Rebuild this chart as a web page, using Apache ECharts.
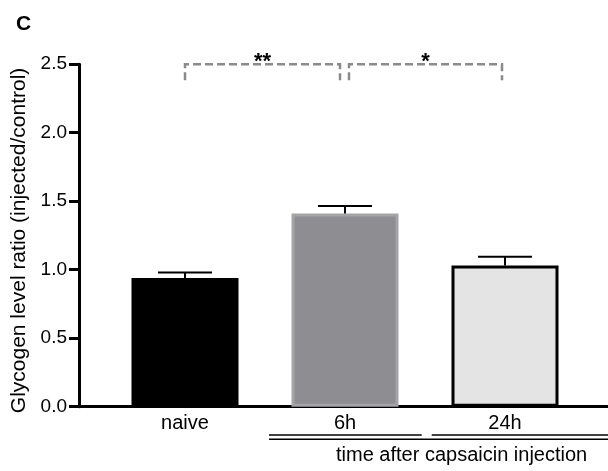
<!DOCTYPE html>
<html>
<head>
<meta charset="utf-8">
<script src="https://cdn.jsdelivr.net/npm/echarts@6/dist/echarts.min.js"></script>
<style>
  html, body { margin: 0; padding: 0; background: #ffffff; }
  #chart { width: 608px; height: 471px; }
</style>
</head>
<body>
<div id="chart"></div>
<script>
// ---- data ----
const categories = ['naive', '6h', '24h'];
const means = [0.94, 1.41, 1.03];
const sems = [0.04, 0.055, 0.065];
const sigPairs = [[0, 1], [1, 2]];
const sigMarks = ['**', '*'];
const groupTitle = 'time after capsaicin injection';
const groupMembers = [1, 2];
const panelLetter = 'C';
const yName = 'Glycogen level ratio (injected/control)';

// ---- styles ----
const FONT = 'Liberation Sans, Arial, Helvetica, sans-serif';
const barFills = ['#000000', '#8e8d92', '#e4e4e4'];
const barBorders = ['#000000', '#a4a3a7', '#000000'];
const sigLevel = 2.5;

const chart = echarts.init(document.getElementById('chart'), null, { renderer: 'canvas' });

const option = {
  animation: false,
  backgroundColor: '#ffffff',
  textStyle: { fontFamily: FONT },
  title: {
    text: panelLetter,
    left: 11,
    top: 9,
    textStyle: { fontFamily: FONT, fontSize: 21, fontWeight: 'bold', color: '#000' }
  },
  grid: { left: 79, right: 0, top: 64.2, bottom: 64.3, containLabel: false },
  xAxis: {
    type: 'value',
    min: -0.6625,
    max: 2.64375,
    splitLine: { show: false },
    axisTick: { show: false },
    axisLine: { show: true, onZero: false, lineStyle: { color: '#000', width: 3 } },
    axisLabel: {
      customValues: categories.map((c, i) => i),
      formatter: v => categories[Math.round(v)] || '',
      color: '#000',
      fontSize: 20,
      fontFamily: FONT,
      margin: 7
    }
  },
  yAxis: {
    type: 'value',
    min: 0,
    max: 2.5,
    interval: 0.5,
    splitLine: { show: false },
    axisLine: { show: true, onZero: false, lineStyle: { color: '#000', width: 3 } },
    axisTick: { show: true, inside: false, length: 10, lineStyle: { color: '#000', width: 3 } },
    axisLabel: {
      formatter: v => v.toFixed(1),
      color: '#000',
      fontSize: 19,
      fontFamily: FONT,
      margin: 12
    },
    name: yName,
    nameLocation: 'middle',
    nameGap: 43,
    nameTextStyle: { color: '#000', fontSize: 21, fontFamily: FONT, padding: [0, 10, 0, 0] }
  },
  series: [
    {
      type: 'bar',
      barWidth: 107,
      data: means.map((m, i) => ({
        value: [i, m],
        itemStyle: { color: barFills[i], borderColor: barBorders[i], borderWidth: 3 }
      })),
      z: 2
    },
    {
      type: 'custom',
      z: 3,
      clip: false,
      encode: { x: 0, y: 1 },
      data: means.map((m, i) => [i, m, sems[i]]),
      renderItem: function (params, api) {
        const x = api.value(0), m = api.value(1), e = api.value(2);
        const p0 = api.coord([x, m]);
        const p1 = api.coord([x, m + e]);
        return {
          type: 'group',
          children: [
            { type: 'line', shape: { x1: p0[0], y1: p0[1], x2: p1[0], y2: p1[1] }, style: { stroke: '#000', lineWidth: 2 } },
            { type: 'line', shape: { x1: p1[0] - 27, y1: p1[1], x2: p1[0] + 27, y2: p1[1] }, style: { stroke: '#000', lineWidth: 2 } }
          ]
        };
      }
    },
    {
      type: 'custom',
      z: 3,
      clip: false,
      encode: { x: [0, 2], y: 1 },
      data: sigPairs.map((p, i) => [p[0], sigLevel, p[1], i]),
      renderItem: function (params, api) {
        const a = api.value(0), b = api.value(2), idx = api.value(3);
        const pa = api.coord([a, sigLevel]);
        const pb = api.coord([b, sigLevel]);
        const xa = pa[0] + (idx > 0 ? 4 : 0);
        const xb = pb[0] - (idx === 0 ? 5 : 3);
        const top = pa[1];
        const bottom = top + 16;
        return {
          type: 'group',
          children: [
            {
              type: 'polyline',
              shape: { points: [[xa, bottom], [xa, top], [xb, top], [xb, bottom]] },
              style: { stroke: '#8a8a8a', lineWidth: 2.5, lineDash: [8, 4], fill: null }
            },
            {
              type: 'text',
              style: {
                text: sigMarks[idx],
                x: (xa + xb) / 2,
                y: top - 2,
                align: 'center',
                verticalAlign: 'middle',
                fontSize: 22,
                fontWeight: 'bold',
                fontFamily: FONT,
                fill: '#000'
              }
            }
          ]
        };
      }
    },
    {
      type: 'custom',
      z: 3,
      clip: false,
      encode: { x: [0, 2], y: 1 },
      data: [[groupMembers[0], 0, groupMembers[groupMembers.length - 1]]],
      renderItem: function (params, api) {
        const W = api.getWidth();
        const c1 = api.coord([api.value(0), 0]);
        const c2 = api.coord([api.value(2), 0]);
        const axisY = c1[1];
        const y1 = axisY + 28.3;
        const y2 = axisY + 32.6;
        const ls = { stroke: '#000', lineWidth: 1.5 };
        return {
          type: 'group',
          children: [
            { type: 'line', shape: { x1: c1[0] - 76, y1: y1, x2: c1[0] + 76.7, y2: y1 }, style: ls },
            { type: 'line', shape: { x1: c2[0] - 73.3, y1: y1, x2: W, y2: y1 }, style: ls },
            { type: 'line', shape: { x1: c1[0] - 76, y1: y2, x2: W, y2: y2 }, style: ls },
            {
              type: 'text',
              style: {
                text: groupTitle,
                x: c1[0] - 9,
                y: axisY + 48.5,
                align: 'left',
                verticalAlign: 'middle',
                fontSize: 20,
                fontFamily: FONT,
                fill: '#000'
              }
            }
          ]
        };
      }
    }
  ]
};

chart.setOption(option);
</script>
</body>
</html>
